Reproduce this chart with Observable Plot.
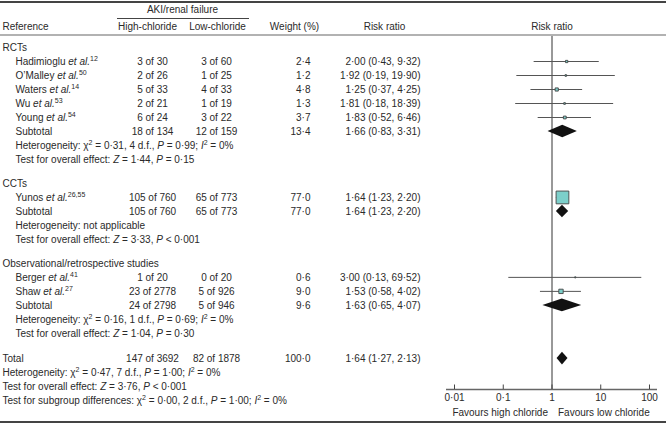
<!DOCTYPE html>
<html><head><meta charset="utf-8">
<script src="https://cdn.jsdelivr.net/npm/d3@7"></script>
<script src="https://cdn.jsdelivr.net/npm/@observablehq/plot@0.6"></script>
<style>html,body{margin:0;padding:0;background:#fff;} #chart svg{display:block;}</style>
</head><body><div id="chart"></div><script>
// ---------------- DATA ----------------
const groupNames = ["RCTs", "CCTs", "Observational/retrospective studies"];
const studyAuthors = ["Hadimioglu", "O’Malley", "Waters", "Wu", "Young", "Yunos", "Berger", "Shaw"];
const studyRefs = ["12", "50", "14", "53", "54", "26,55", "41", "27"];
const studyGroup = [0, 0, 0, 0, 0, 1, 2, 2];
const highEvents = [3, 2, 5, 2, 6, 105, 1, 23];
const highTotal = [30, 26, 33, 21, 24, 760, 20, 2778];
const lowEvents = [3, 1, 4, 1, 3, 65, 0, 5];
const lowTotal = [60, 25, 33, 19, 22, 773, 20, 926];
const studyWeight = [2.4, 1.2, 4.8, 1.3, 3.7, 77.0, 0.6, 9.0];
const studyRR = [2.00, 1.92, 1.25, 1.81, 1.83, 1.64, 3.00, 1.53];
const studyLo = [0.43, 0.19, 0.37, 0.18, 0.52, 1.23, 0.13, 0.58];
const studyHi = [9.32, 19.90, 4.25, 18.39, 6.46, 2.20, 69.52, 4.02];

const subHighEvents = [18, 105, 24];
const subHighTotal = [134, 760, 2798];
const subLowEvents = [12, 65, 5];
const subLowTotal = [159, 773, 946];
const subWeight = [13.4, 77.0, 9.6];
const subRR = [1.66, 1.64, 1.63];
const subLo = [0.83, 1.23, 0.65];
const subHi = [3.31, 2.20, 4.07];
const hetChi2 = [0.31, null, 0.16];
const hetDf = [4, null, 1];
const hetP = [0.99, null, 0.69];
const hetI2 = [0, null, 0];
const effZ = [1.44, 3.33, 1.04];
const effP = [0.15, 0.001, 0.30];
const effPLess = [false, true, false];

const totalHigh = [147, 3692];
const totalLow = [82, 1878];
const totalWeight = 100.0;
const totalEst = [1.64, 1.27, 2.13];
const totalHet = [0.47, 7, 1.00, 0];      // chi2, df, P, I2
const totalEff = [3.76, 0.001];           // Z, P (<)
const subgroupDiff = [0.00, 2, 1.00, 0];  // chi2, df, P, I2

const axisTicks = [0.01, 0.1, 1, 10, 100];
const axisTickLabels = ["0·01", "0·1", "1", "10", "100"];

// ---------------- LAYOUT / STYLE ----------------
const W = 666, H = 423;
const ROW_PX = 14, ROW0_PX = 47;
const TEXT = "#2a2a2a";
const TEAL = "#7ccfca";
const f1 = v => v.toFixed(1).replace(".", "·");
const f2 = v => v.toFixed(2).replace(".", "·");
const rrText = (r, l, h) => `${f2(r)} (${f2(l)}, ${f2(h)})`;
const hetText = (c, d, p, i) => `Heterogeneity: χ^2^ = ${f2(c)}, ${d} d.f., *P* = ${f2(p)}; *I*^2^ = ${i}%`;

// build rows (in row units)
const cells = [];   // {u, col, t}
const studies = [];
const diamonds = [];
let u = 0;
groupNames.forEach((g, gi) => {
  if (gi > 0) u += 0.71;
  cells.push({u, col: "ref0", t: g}); u++;
  studyAuthors.forEach((a, i) => {
    if (studyGroup[i] !== gi) return;
    cells.push({u, col: "ref1", t: `${a} *et al.*^${studyRefs[i]}^`});
    cells.push({u, col: "high", t: `${highEvents[i]} of ${highTotal[i]}`});
    cells.push({u, col: "low", t: `${lowEvents[i]} of ${lowTotal[i]}`});
    cells.push({u, col: "wt", t: f1(studyWeight[i])});
    cells.push({u, col: "rr", t: rrText(studyRR[i], studyLo[i], studyHi[i])});
    studies.push({u, rr: studyRR[i], lo: studyLo[i], hi: studyHi[i], w: studyWeight[i]});
    u++;
  });
  cells.push({u, col: "ref1", t: "Subtotal"});
  cells.push({u, col: "high", t: `${subHighEvents[gi]} of ${subHighTotal[gi]}`});
  cells.push({u, col: "low", t: `${subLowEvents[gi]} of ${subLowTotal[gi]}`});
  cells.push({u, col: "wt", t: f1(subWeight[gi])});
  cells.push({u, col: "rr", t: rrText(subRR[gi], subLo[gi], subHi[gi])});
  diamonds.push({u, rr: subRR[gi], lo: subLo[gi], hi: subHi[gi], z: "g" + gi});
  u++;
  cells.push({u, col: "ref1", t: hetChi2[gi] == null ? "Heterogeneity: not applicable"
    : hetText(hetChi2[gi], hetDf[gi], hetP[gi], hetI2[gi])});
  u++;
  cells.push({u, col: "ref1", t: `Test for overall effect: *Z* = ${f2(effZ[gi])}, *P* ${effPLess[gi] ? "<" : "="} ${effPLess[gi] ? String(effP[gi]).replace(".", "·") : f2(effP[gi])}`});
  u++;
});
u += 0.8;
cells.push({u, col: "ref0", t: "Total"});
cells.push({u, col: "high", t: `${totalHigh[0]} of ${totalHigh[1]}`});
cells.push({u, col: "low", t: `${totalLow[0]} of ${totalLow[1]}`});
cells.push({u, col: "wt", t: f1(totalWeight)});
cells.push({u, col: "rr", t: rrText(...totalEst)});
diamonds.push({u, rr: totalEst[0], lo: totalEst[1], hi: totalEst[2], z: "total"});
u++;
cells.push({u, col: "ref0", t: hetText(...totalHet)}); u++;
cells.push({u, col: "ref0", t: `Test for overall effect: *Z* = ${f2(totalEff[0])}, *P* < ${String(totalEff[1]).replace(".", "·")}`}); u++;
cells.push({u, col: "ref0", t: `Test for subgroup differences: χ^2^ = ${f2(subgroupDiff[0])}, ${subgroupDiff[1]} d.f., *P* = ${f2(subgroupDiff[2])}; *I*^2^ = ${subgroupDiff[3]}%`});

const px2u = p => (p - ROW0_PX) / ROW_PX;
const uTitle = px2u(9), uUnder = px2u(18), uHead = px2u(26), uHeadRule = px2u(34.5);
const uTopRule = px2u(1.5), uBottomRule = px2u(421.5);
const uVTop = px2u(36), uAxis = px2u(389), uTickTop = px2u(384.5), uTickLab = px2u(397), uFav = px2u(412);
const DH = 0.45;

const diamondPts = diamonds.flatMap(d => [
  {x: d.lo, y1: d.u, y2: d.u, z: d.z},
  {x: d.rr, y1: d.u - DH, y2: d.u + DH, z: d.z},
  {x: d.hi, y1: d.u, y2: d.u, z: d.z}
]);

const COLS = {
  ref0: {dx: 2, anchor: "start"},
  ref1: {dx: 15, anchor: "start"},
  high: {dx: 152, anchor: "middle"},
  low: {dx: 216, anchor: "middle"},
  wt: {dx: 310, anchor: "end"},
  rr: {dx: 420, anchor: "end"}
};
const colMarks = Object.entries(COLS).map(([k, c]) =>
  Plot.text(cells.filter(d => d.col === k), {y: "u", text: "t", frameAnchor: "left", dx: c.dx, textAnchor: c.anchor, fill: TEXT}));

const headers = [
  {t: "AKI/renal failure", u: uTitle, dx: 182, a: "middle"},
  {t: "Reference", u: uHead, dx: 2, a: "start"},
  {t: "High-chloride", u: uHead, dx: 147, a: "middle"},
  {t: "Low-chloride", u: uHead, dx: 217, a: "middle"},
  {t: "Weight (%)", u: uHead, dx: 294, a: "middle"},
  {t: "Risk ratio", u: uHead, dx: 384, a: "middle"}
];
const headerMarks = headers.map(h => Plot.text([h], {y: "u", text: "t", frameAnchor: "left", dx: h.dx, textAnchor: h.a, fill: TEXT}));

const svg = Plot.plot({
  width: W, height: H, margin: 0,
  style: {fontFamily: "'Liberation Sans', Arial, Helvetica, sans-serif", fontSize: "10px", color: TEXT, background: "#fff"},
  x: {type: "log", domain: [1 / 146, 146], range: [446, 657], axis: null},
  y: {domain: [px2u(0), px2u(H)], range: [0, H], axis: null},
  r: {type: "sqrt", domain: [0, 77], range: [0, 7.2]},
  marks: [
    Plot.ruleY([uTopRule], {stroke: "#444", strokeWidth: 2}),
    Plot.ruleY([uHeadRule], {stroke: "#999", strokeWidth: 1.5}),
    Plot.ruleY([uBottomRule], {stroke: "#444", strokeWidth: 2}),
    Plot.ruleY([uUnder], {insetLeft: 117, insetRight: W - 249, stroke: "#444", strokeWidth: 1}),
    ...headerMarks,
    Plot.text(["Risk ratio"], {x: () => 1, y: () => uHead, text: d => d, fill: TEXT}),
    ...colMarks,
    // forest
    Plot.ruleX([1], {y1: uVTop, y2: uAxis, stroke: "#333", strokeWidth: 1}),
    Plot.ruleY(studies, {y: "u", x1: "lo", x2: "hi", stroke: "#555", strokeWidth: 1}),
    Plot.dot(studies, {x: "rr", y: "u", r: "w", symbol: "square", fill: TEAL, stroke: "#444", strokeWidth: 0.9}),
    Plot.areaY(diamondPts, {x: "x", y1: "y1", y2: "y2", z: "z", fill: "#111", curve: "linear"}),
    // axis
    Plot.ruleY([uAxis], {x1: () => 1 / 146, x2: () => 146, stroke: "#666", strokeWidth: 1.5}),
    Plot.ruleX(axisTicks, {x: d => d, y1: uTickTop, y2: uAxis, stroke: "#444", strokeWidth: 1}),
    Plot.text(axisTicks, {x: d => d, y: () => uTickLab, text: (d, i) => axisTickLabels[i], fill: TEXT}),
    Plot.text(["Favours high chloride"], {x: () => 1, y: () => uFav, text: d => d, dx: -4, textAnchor: "end", fill: TEXT}),
    Plot.text(["Favours low chloride"], {x: () => 1, y: () => uFav, text: d => d, dx: 6, textAnchor: "start", fill: TEXT})
  ]
});

// rich text: *italic*, ^superscript^
const NS = "http://www.w3.org/2000/svg";
svg.querySelectorAll("text").forEach(t => {
  const s = t.textContent;
  if (!/[*^]/.test(s)) return;
  t.textContent = "";
  const parts = s.split(/(\*[^*]+\*|\^[^^]+\^)/).filter(Boolean);
  let shifted = false;
  for (const p of parts) {
    const ts = document.createElementNS(NS, "tspan");
    if (p[0] === "^") {
      ts.textContent = p.slice(1, -1);
      ts.setAttribute("font-size", "7");
      ts.setAttribute("dy", "-3.5");
      shifted = true;
    } else {
      if (p[0] === "*") { ts.textContent = p.slice(1, -1); ts.setAttribute("font-style", "italic"); }
      else ts.textContent = p;
      if (shifted) { ts.setAttribute("dy", "3.5"); shifted = false; }
    }
    t.appendChild(ts);
  }
});
document.getElementById("chart").appendChild(svg);
</script></body></html>
